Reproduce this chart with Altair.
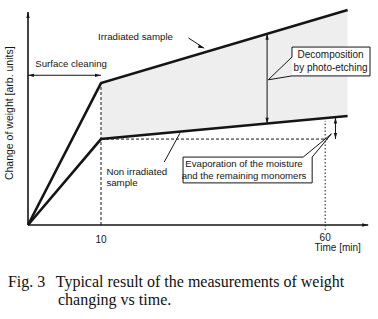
import altair as alt
import pandas as pd

# ---- curves (schematic weight change vs time) ----
time_irr = [0, 10, 65]
weight_irr = [0, 65.4, 99.1]
time_non = [0, 10, 65]
weight_non = [0, 39.6, 50.2]

# stippled region between the two curves after surface cleaning
shade_time = [10, 65]
shade_upper = [65.4, 99.1]
shade_lower = [39.6, 50.2]

# guide / arrow segments: x, y, x2, y2, style
seg_x = [0, 0, 10, 10, 60, 0, 47.05, 62.3, 29.5, 24.1]
seg_y = [0, 0, 0, 39.6, -2.3, 69, 46.7, 39.6, 86.2, 29.0]
seg_x2 = [0, 69.6, 10, 60.6, 60, 10, 47.05, 62.3, 33.0, 27.6]
seg_y2 = [98.2, 0, 65.4, 39.6, 48.0, 69, 88.1, 49.6, 81.5, 42.3]
seg_style = ["axis", "axis", "dash", "dash", "dot", "thin", "thin", "thin", "thin", "thin"]

# arrow heads: x, y, direction (deg clockwise from up)
head_x = [0, 69.6, 0, 10, 47.05, 47.05, 62.3, 62.3, 33.0]
head_y = [98.2, 0, 69, 69, 88.1, 46.7, 49.6, 39.6, 81.5]
head_dir = [0, 90, 270, 90, 0, 180, 0, 180, 110]

# callout boxes (outline polygons)
box_id = ["dec"] * 8 + ["eva"] * 7
box_x = [52.6, 70.0, 70.0, 52.6, 47.3, 52.6, 52.6, 52.6,
         28.3, 55.1, 61.4, 57.1, 57.1, 28.3, 28.3]
box_y = [82.0, 82.0, 68.7, 68.7, 66.9, 77.4, 82.0, 82.0,
         31.3, 31.3, 42.0, 31.3, 19.4, 19.4, 31.3]
bg_x = [52.6]
bg_x2 = [70.0]
bg_y = [68.7]
bg_y2 = [82.0]

# texts
lab_center_text = ["Surface cleaning", "Evaporation of the moisture", "and the remaining monomers"]
lab_center_x = [5.9, 41.9, 41.9]
lab_center_y = [74.2, 28.1, 22.6]
lab_dec_text = ["Decomposition", "by photo-etching"]
lab_dec_x = [61.2, 61.2]
lab_dec_y = [78.4, 72.4]
tick_text = ["10", "60", "Time [min]"]
tick_x = [10, 60, 62.8]
tick_y = [-7.0, -6.0, -10.8]
lab_left_text = ["Irradiated sample", "Non irradiated", "sample"]
lab_left_x = [9.6, 11.2, 11.2]
lab_left_y = [86.6, 24.4, 19.4]
ytitle_text = ["Change of weight [arb. units]"]
ytitle_x = [-2.5]
ytitle_y = [51.5]
caption_text = ["Fig. 3", "Typical result of the measurements of weight", "changing vs time."]
caption_x = [-2.75, 3.8, 4.1]
caption_y = [-28.6, -28.6, -36.7]

# ---- build tables ----
curves = pd.DataFrame({
    "t": time_irr + time_non,
    "w": weight_irr + weight_non,
    "series": ["Irradiated sample"] * len(time_irr) + ["Non irradiated sample"] * len(time_non),
})
shade = pd.DataFrame({"t": shade_time, "hi": shade_upper, "lo": shade_lower})
segs = pd.DataFrame({"x": seg_x, "y": seg_y, "x2": seg_x2, "y2": seg_y2, "style": seg_style})
heads = pd.DataFrame({"x": head_x, "y": head_y, "ang": head_dir})
boxes = pd.DataFrame({"id": box_id, "x": box_x, "y": box_y, "ord": list(range(len(box_x)))})
bg = pd.DataFrame({"x": bg_x, "x2": bg_x2, "y": bg_y, "y2": bg_y2})
lc = pd.DataFrame({"x": lab_center_x, "y": lab_center_y, "text": lab_center_text})
ld = pd.DataFrame({"x": lab_dec_x, "y": lab_dec_y, "text": lab_dec_text})
tk = pd.DataFrame({"x": tick_x, "y": tick_y, "text": tick_text})
ll = pd.DataFrame({"x": lab_left_x, "y": lab_left_y, "text": lab_left_text})
yt = pd.DataFrame({"x": ytitle_x, "y": ytitle_y, "text": ytitle_text})
cap = pd.DataFrame({"x": caption_x, "y": caption_y, "text": caption_text})

xs = alt.Scale(domain=[0, 10, 70], range=[0, 73, 342], zero=False, nice=False)
ys = alt.Scale(domain=[0, 100], zero=False, nice=False)

INK = "#151515"
SANS = "Liberation Sans"


def X(f="x"):
    return alt.X(f"{f}:Q", scale=xs, axis=None)


def Y(f="y"):
    return alt.Y(f"{f}:Q", scale=ys, axis=None)


area = alt.Chart(shade).mark_area(color="#eeeeee").encode(
    x=X("t"), y=Y("hi"), y2="lo:Q")

bgrect = alt.Chart(bg).mark_rect(color="white").encode(
    x=X(), x2="x2:Q", y=Y(), y2="y2:Q")


def rules(style, **kw):
    return alt.Chart(segs).transform_filter(
        alt.datum.style == style
    ).mark_rule(color=INK, **kw).encode(x=X(), y=Y(), x2="x2:Q", y2="y2:Q")


r_axis = rules("axis", strokeWidth=1.6)
r_dash = rules("dash", strokeWidth=1, strokeDash=[3, 2])
r_dot = rules("dot", strokeWidth=1, strokeDash=[1.5, 2])
r_thin = rules("thin", strokeWidth=1)

outline = alt.Chart(boxes).mark_line(color=INK, strokeWidth=1, strokeJoin="miter").encode(
    x=X(), y=Y(), detail="id:N", order="ord:Q")

lines = alt.Chart(curves).mark_line(color=INK, strokeWidth=2.6).encode(
    x=X("t"), y=Y("w"), detail="series:N")

arrowheads = alt.Chart(heads).mark_point(
    shape="M0,0L0.6,2.2L-0.6,2.2Z", filled=True, color=INK, opacity=1, size=30
).encode(x=X(), y=Y(), angle=alt.Angle("ang:Q", scale=None))


def texts(df, size, align="center", **kw):
    return alt.Chart(df).mark_text(font=SANS, fontSize=size, color=INK, align=align,
                                   baseline="middle", **kw).encode(x=X(), y=Y(), text="text:N")


t_center = texts(lc, 9.6)
t_dec = texts(ld, 10)
t_tick = texts(tk, 10)
t_left = texts(ll, 9.7, align="left")
t_ytitle = texts(yt, 10.5, angle=270)
t_cap = alt.Chart(cap).mark_text(font="Liberation Serif", fontSize=16, color="#111", align="left",
                                 baseline="alphabetic").encode(x=X(), y=Y(), text="text:N")

chart = alt.layer(
    area, bgrect, r_dash, r_dot, r_thin, r_axis, outline, lines, arrowheads,
    t_center, t_dec, t_tick, t_left, t_ytitle, t_cap
).properties(
    width=342, height=217,
    autosize=alt.AutoSizeParams(type="none"),
    padding={"left": 28, "top": 8, "right": 8, "bottom": 94},
    background="white",
).configure_view(strokeWidth=0)

chart.save("out.html", embed_options={"renderer": "svg", "actions": False})
